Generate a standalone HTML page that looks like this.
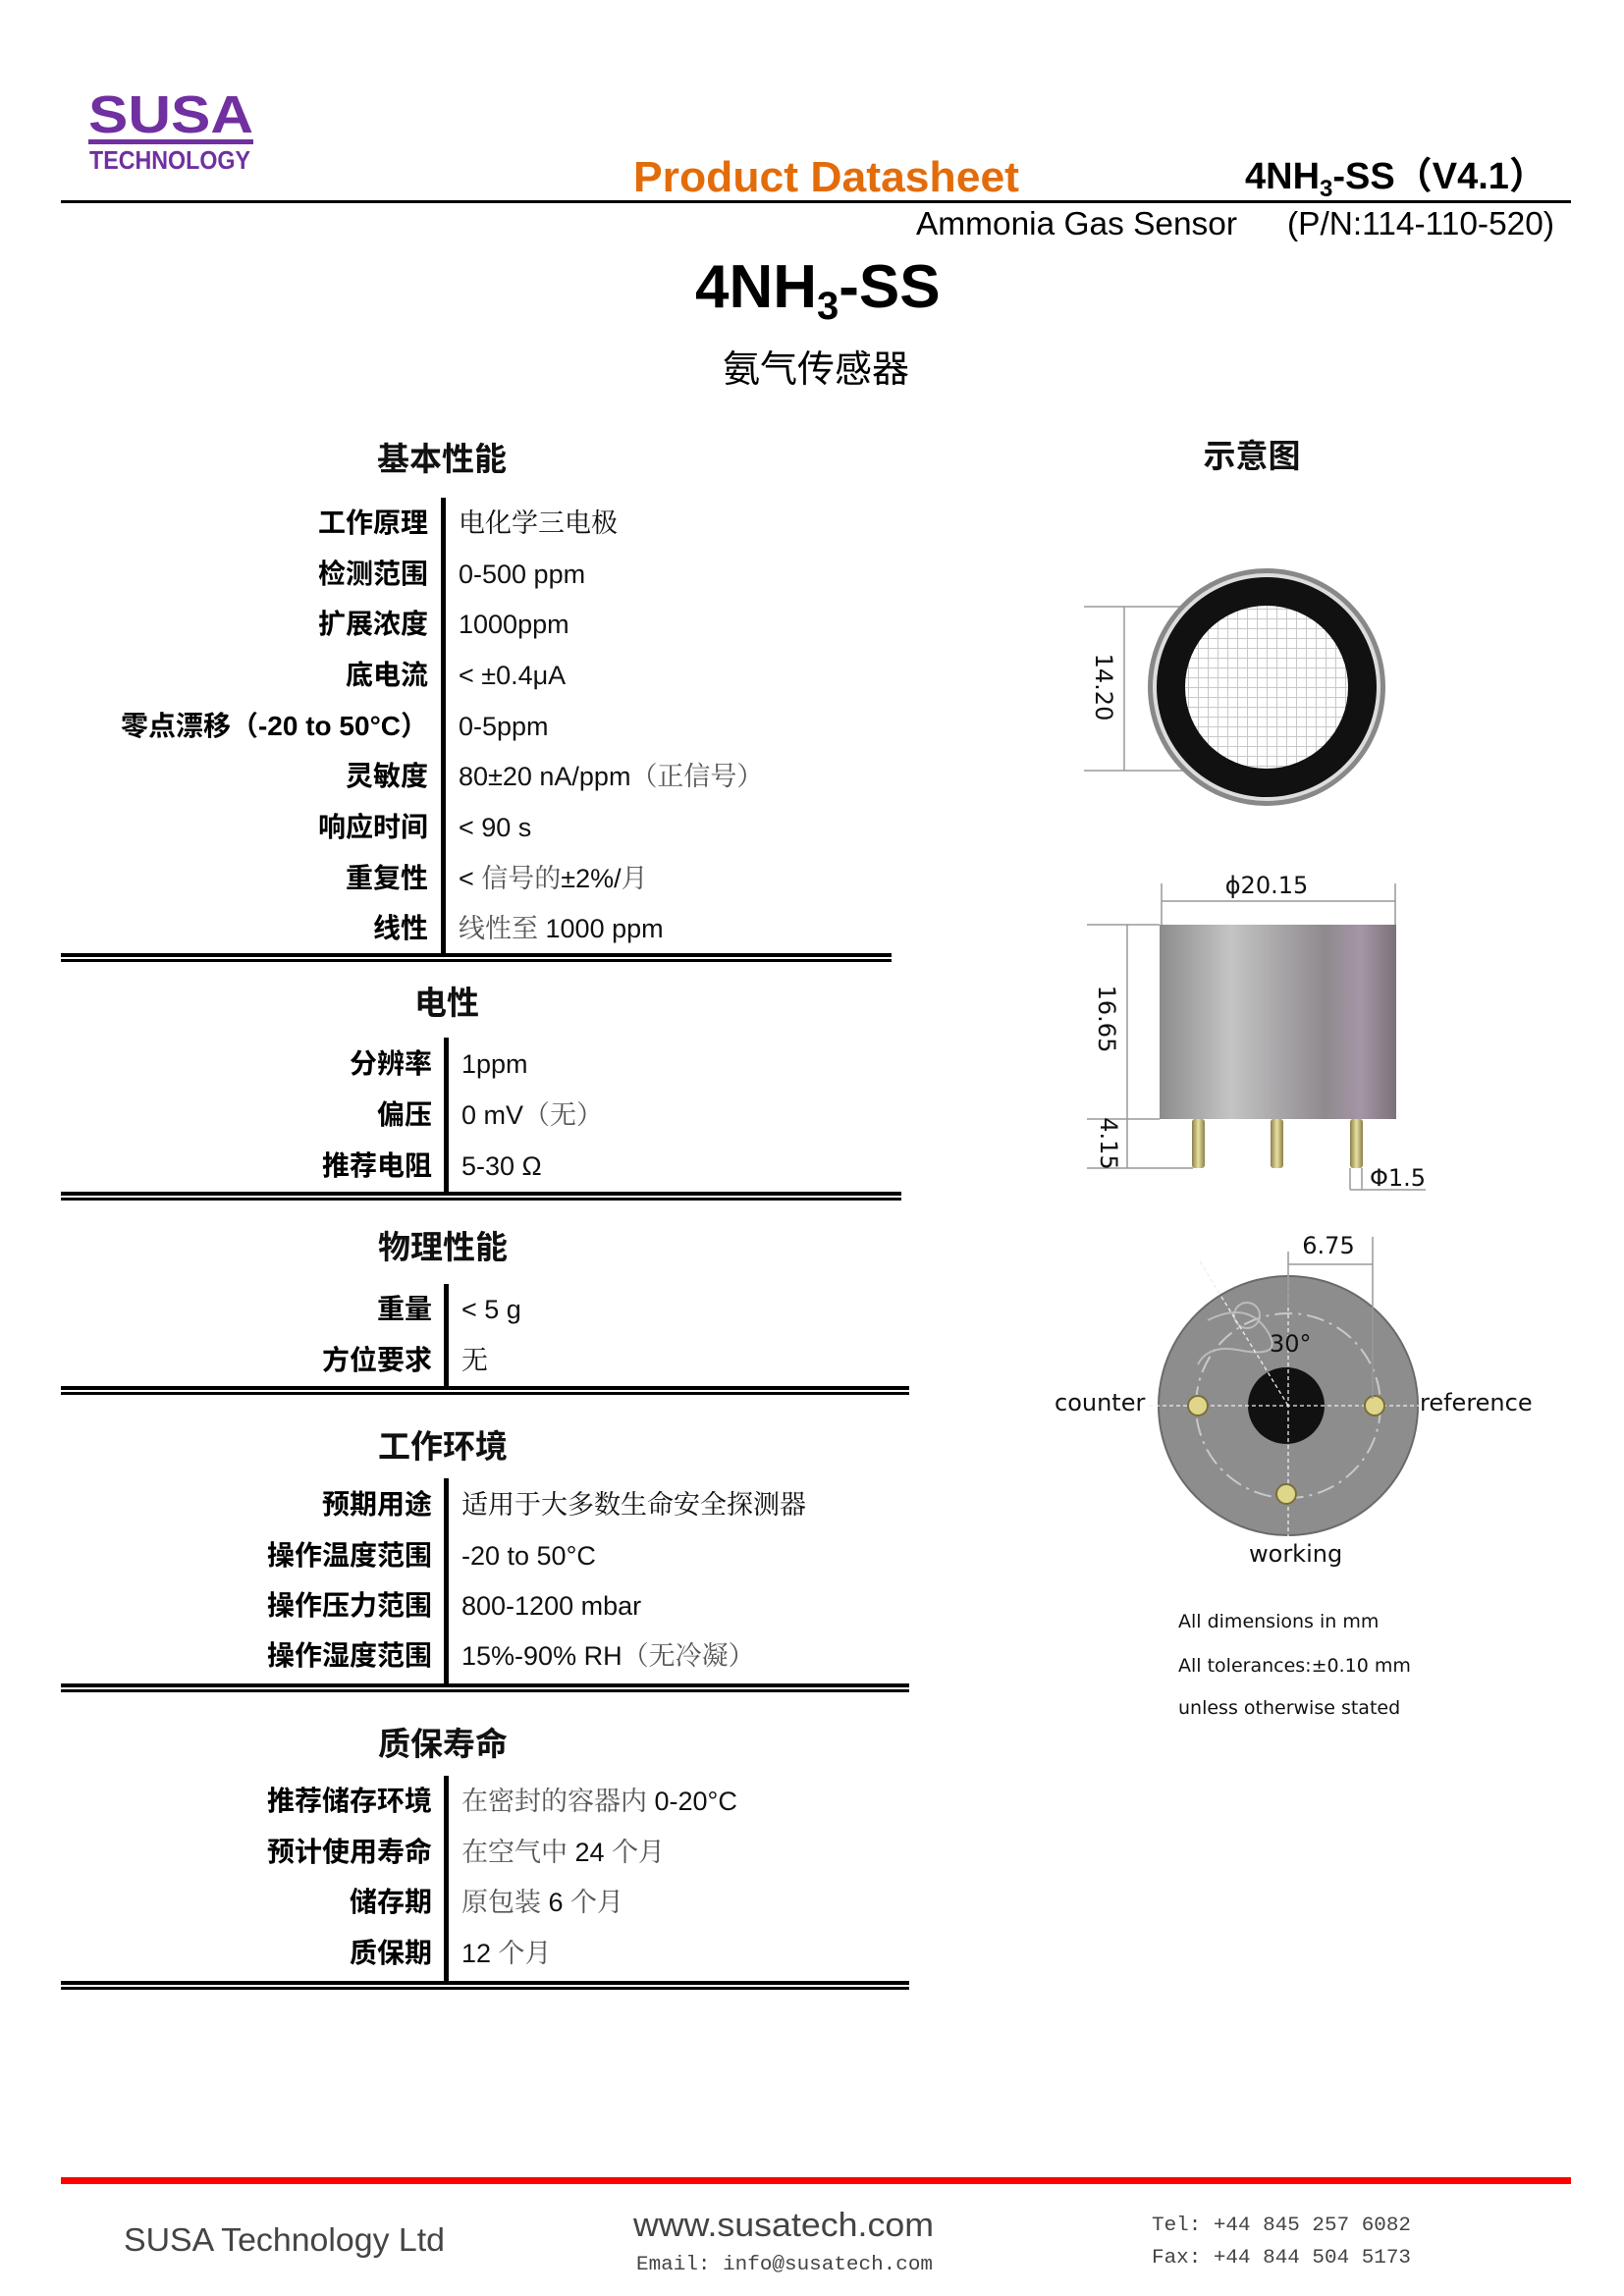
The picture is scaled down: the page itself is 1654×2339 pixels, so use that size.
<!DOCTYPE html>
<html><head><meta charset="utf-8"><style>
html,body{margin:0;padding:0;background:#fff}
svg{display:block}
.l{font-family:"Liberation Sans","Noto Sans CJK SC",sans-serif;font-weight:bold;font-size:28px;text-anchor:end;fill:#000}
.v{font-family:"Liberation Sans","Noto Serif CJK SC",sans-serif;font-size:27px;fill:#111}
.h{font-family:"Liberation Sans","Noto Sans CJK SC",sans-serif;font-weight:bold;font-size:33px;text-anchor:middle;fill:#111}
.d{font-family:"DejaVu Sans",sans-serif;font-size:24px;fill:#111}
.n{font-family:"DejaVu Sans",sans-serif;font-size:19px;fill:#111}
.m{font-family:"Liberation Mono","DejaVu Sans Mono",monospace;font-size:20px;fill:#444}
</style></head><body>
<svg width="1654" height="2339" viewBox="0 0 1654 2339" xmlns="http://www.w3.org/2000/svg">
<defs>
<linearGradient id="cyl" x1="0" x2="1" y1="0" y2="0">
<stop offset="0" stop-color="#8c8c8c"/><stop offset="0.3" stop-color="#c4c4c4"/><stop offset="0.7" stop-color="#8f8a8e"/><stop offset="0.85" stop-color="#a596a6"/><stop offset="1" stop-color="#7a727a"/></linearGradient>
<linearGradient id="pin" x1="0" x2="1"><stop offset="0" stop-color="#8a7f4a"/><stop offset="0.5" stop-color="#e8dfa0"/><stop offset="1" stop-color="#8a7f4a"/></linearGradient>
<pattern id="mesh" width="10" height="10" patternUnits="userSpaceOnUse"><rect width="10" height="10" fill="#fff"/><path d="M0 0H10M0 0V10" stroke="#c8c8c8" stroke-width="2"/></pattern>
</defs>

<!-- logo -->
<text x="90" y="135" font-family="Liberation Sans,sans-serif" font-weight="bold" font-size="54" fill="#7030a0" textLength="168" lengthAdjust="spacingAndGlyphs">SUSA</text>
<rect x="90" y="142" width="168" height="5" fill="#7030a0"/>
<text x="91" y="172" font-family="Liberation Sans,sans-serif" font-weight="bold" font-size="26" fill="#7030a0" textLength="164" lengthAdjust="spacingAndGlyphs">TECHNOLOGY</text>

<!-- header -->
<text x="645" y="195" font-family="Liberation Sans,sans-serif" font-weight="bold" font-size="44" fill="#e36c0a" textLength="393" lengthAdjust="spacingAndGlyphs">Product Datasheet</text>
<text x="1268" y="192" font-family="Liberation Sans,'Noto Sans CJK SC',sans-serif" font-weight="bold" font-size="38" fill="#000">4NH<tspan font-size="24" dy="8">3</tspan><tspan dy="-8">-SS（V4.1）</tspan></text>
<rect x="62" y="204" width="1538" height="3" fill="#000"/>
<text x="933" y="239" font-family="Liberation Sans,sans-serif" font-size="33" fill="#000" textLength="327" lengthAdjust="spacingAndGlyphs">Ammonia Gas Sensor</text>
<text x="1311" y="239" font-family="Liberation Sans,sans-serif" font-size="33" fill="#000" textLength="272" lengthAdjust="spacingAndGlyphs">(P/N:114-110-520)</text>

<text x="708" y="313" font-family="Liberation Sans,sans-serif" font-weight="bold" font-size="62" fill="#000">4NH<tspan font-size="40" dy="12">3</tspan><tspan dy="-12">-SS</tspan></text>
<text x="831" y="389" text-anchor="middle" font-family="'Noto Sans CJK SC',sans-serif" font-size="38" fill="#000">氨气传感器</text>

<!-- section 1 -->
<text class="h" x="450" y="479">基本性能</text>
<text class="h" x="1275" y="476">示意图</text>
<rect x="449" y="507" width="5" height="465" fill="#000"/>
<g>
<text class="l" x="436" y="542">工作原理</text><text class="v" x="467" y="542" fill="#555">电化学三电极</text>
<text class="l" x="436" y="594">检测范围</text><text class="v" x="467" y="594">0-500 ppm</text>
<text class="l" x="436" y="645">扩展浓度</text><text class="v" x="467" y="645">1000ppm</text>
<text class="l" x="436" y="697">底电流</text><text class="v" x="467" y="697">&lt; ±0.4μA</text>
<text class="l" x="436" y="749">零点漂移（-20 to 50°C）</text><text class="v" x="467" y="749">0-5ppm</text>
<text class="l" x="436" y="800">灵敏度</text><text class="v" x="467" y="800">80±20 nA/ppm<tspan fill="#555">（正信号）</tspan></text>
<text class="l" x="436" y="852">响应时间</text><text class="v" x="467" y="852">&lt; 90 s</text>
<text class="l" x="436" y="904">重复性</text><text class="v" x="467" y="904">&lt; <tspan fill="#555">信号的</tspan>±2%/<tspan fill="#555">月</tspan></text>
<text class="l" x="436" y="955">线性</text><text class="v" x="467" y="955"><tspan fill="#555">线性至 </tspan>1000 ppm</text>
</g>
<rect x="62" y="971" width="846" height="4" fill="#000"/><rect x="62" y="977" width="846" height="3" fill="#000"/>

<!-- section 2 -->
<text class="h" x="455" y="1033">电性</text>
<rect x="452" y="1057" width="5" height="158" fill="#000"/>
<text class="l" x="440" y="1093">分辨率</text><text class="v" x="470" y="1093">1ppm</text>
<text class="l" x="440" y="1145">偏压</text><text class="v" x="470" y="1145">0 mV<tspan fill="#555">（无）</tspan></text>
<text class="l" x="440" y="1197">推荐电阻</text><text class="v" x="470" y="1197">5-30 Ω</text>
<rect x="62" y="1214" width="856" height="4" fill="#000"/><rect x="62" y="1220" width="856" height="3" fill="#000"/>

<!-- section 3 -->
<text class="h" x="451" y="1282">物理性能</text>
<rect x="452" y="1308" width="5" height="105" fill="#000"/>
<text class="l" x="440" y="1343">重量</text><text class="v" x="470" y="1343">&lt; 5 g</text>
<text class="l" x="440" y="1395">方位要求</text><text class="v" x="470" y="1395" fill="#555">无</text>
<rect x="62" y="1412" width="864" height="4" fill="#000"/><rect x="62" y="1418" width="864" height="3" fill="#000"/>

<!-- section 4 -->
<text class="h" x="451" y="1485">工作环境</text>
<rect x="452" y="1506" width="5" height="210" fill="#000"/>
<text class="l" x="440" y="1542">预期用途</text><text class="v" x="470" y="1542" fill="#555">适用于大多数生命安全探测器</text>
<text class="l" x="440" y="1594">操作温度范围</text><text class="v" x="470" y="1594">-20 to 50°C</text>
<text class="l" x="440" y="1645">操作压力范围</text><text class="v" x="470" y="1645">800-1200 mbar</text>
<text class="l" x="440" y="1696">操作湿度范围</text><text class="v" x="470" y="1696">15%-90% RH<tspan fill="#555">（无冷凝）</tspan></text>
<rect x="62" y="1715" width="864" height="4" fill="#000"/><rect x="62" y="1721" width="864" height="3" fill="#000"/>

<!-- section 5 -->
<text class="h" x="451" y="1788">质保寿命</text>
<rect x="452" y="1809" width="5" height="210" fill="#000"/>
<text class="l" x="440" y="1844">推荐储存环境</text><text class="v" x="470" y="1844"><tspan fill="#555">在密封的容器内 </tspan>0-20°C</text>
<text class="l" x="440" y="1896">预计使用寿命</text><text class="v" x="470" y="1896"><tspan fill="#555">在空气中 </tspan>24 <tspan fill="#555">个月</tspan></text>
<text class="l" x="440" y="1947">储存期</text><text class="v" x="470" y="1947"><tspan fill="#555">原包装 </tspan>6 <tspan fill="#555">个月</tspan></text>
<text class="l" x="440" y="1999">质保期</text><text class="v" x="470" y="1999">12 <tspan fill="#555">个月</tspan></text>
<rect x="62" y="2018" width="864" height="4" fill="#000"/><rect x="62" y="2024" width="864" height="3" fill="#000"/>

<!-- top view -->
<g stroke="#999" stroke-width="1.5" fill="none">
<path d="M1104 618H1290M1104 785H1290M1145 618V785"/>
</g>
<circle cx="1290" cy="700" r="121" fill="#888"/>
<circle cx="1290" cy="700" r="116" fill="#ddd"/>
<circle cx="1290" cy="700" r="112" fill="#111"/>
<circle cx="1290" cy="700" r="83" fill="url(#mesh)"/>
<text class="d" transform="translate(1116,700) rotate(90)" text-anchor="middle">14.20</text>

<!-- side view -->
<g stroke="#999" stroke-width="1.5" fill="none">
<path d="M1183 900V942M1421 900V942M1183 918H1421"/>
<path d="M1107 942H1181M1107 1140H1181M1107 1190H1215M1148 942V1190"/>
<path d="M1375 1190V1212M1387 1190V1212M1375 1212H1452"/>
</g>
<rect x="1181" y="942" width="241" height="198" fill="url(#cyl)"/>
<rect x="1214" y="1140" width="13" height="50" rx="3" fill="url(#pin)"/>
<rect x="1294" y="1140" width="13" height="50" rx="3" fill="url(#pin)"/>
<rect x="1375" y="1140" width="13" height="50" rx="3" fill="url(#pin)"/>
<text class="d" x="1290" y="910" text-anchor="middle">ϕ20.15</text>
<text class="d" transform="translate(1119,1038) rotate(90)" text-anchor="middle">16.65</text>
<text class="d" font-size="19" transform="translate(1121,1165) rotate(90)" text-anchor="middle">4.15</text>
<text class="d" x="1395" y="1208">Φ1.5</text>

<!-- bottom view -->
<circle cx="1312" cy="1432" r="132" fill="#8d8d8d"/>
<circle cx="1312" cy="1432" r="132" fill="none" stroke="#6a6a6a" stroke-width="2"/>
<circle cx="1312" cy="1432" r="94" fill="none" stroke="#c8c8c8" stroke-width="2" stroke-dasharray="18 6 3 6"/>
<path d="M1230 1345 q40 -20 60 10 q20 30 -30 20 q-30 -5 -40 15" fill="none" stroke="#bbb" stroke-width="2"/>
<circle cx="1270" cy="1340" r="13" fill="none" stroke="#bbb" stroke-width="2"/>
<circle cx="1310" cy="1432" r="39" fill="#111"/>
<g stroke="#eee" stroke-width="1.3" stroke-dasharray="4 3" fill="none">
<path d="M1170 1432H1450M1312 1290V1565M1222 1285L1312 1432"/>
</g>
<g fill="#e0d68a" stroke="#7a6f3a" stroke-width="2">
<circle cx="1220" cy="1432" r="10"/><circle cx="1400" cy="1432" r="10"/><circle cx="1310" cy="1522" r="10"/>
</g>
<g stroke="#999" stroke-width="1.5" fill="none"><path d="M1312 1275V1330M1398 1260V1425M1312 1288H1398"/></g>
<text class="d" x="1353" y="1277" text-anchor="middle">6.75</text>
<text class="d" font-size="13" x="1293" y="1377">30°</text>
<text class="d" x="1074" y="1437">counter</text>
<text class="d" x="1446" y="1437">reference</text>
<text class="d" x="1272" y="1591">working</text>

<text class="n" x="1200" y="1658">All dimensions in mm</text>
<text class="n" x="1200" y="1703">All tolerances:±0.10 mm</text>
<text class="n" x="1200" y="1746">unless otherwise stated</text>

<!-- footer -->
<rect x="62" y="2218" width="1538" height="7" fill="#f00"/>
<text x="126" y="2293" font-family="Liberation Sans,sans-serif" font-size="33" fill="#444" textLength="327" lengthAdjust="spacingAndGlyphs">SUSA Technology Ltd</text>
<text x="645" y="2278" font-family="Liberation Sans,sans-serif" font-size="34" fill="#444" textLength="306" lengthAdjust="spacingAndGlyphs">www.susatech.com</text>
<text class="m" x="648" y="2312" textLength="302" lengthAdjust="spacingAndGlyphs">Email: info@susatech.com</text>
<text class="m" x="1173" y="2272" textLength="264" lengthAdjust="spacingAndGlyphs">Tel: +44 845 257 6082</text>
<text class="m" x="1173" y="2305" textLength="264" lengthAdjust="spacingAndGlyphs">Fax: +44 844 504 5173</text>
</svg>
</body></html>
